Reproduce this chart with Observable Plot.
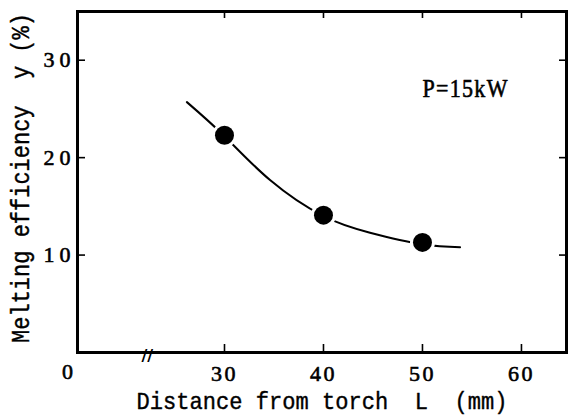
<!DOCTYPE html>
<html>
<head>
<meta charset="utf-8">
<script src="https://cdn.jsdelivr.net/npm/d3@7"></script>
<script src="https://cdn.jsdelivr.net/npm/@observablehq/plot@0.6"></script>
<style>
  html, body { margin: 0; padding: 0; background: #fff; }
  svg text { white-space: pre; }
  .ticks-y text { letter-spacing: 5px; }
  .ticks-x text { letter-spacing: 2.5px; }
  .ticks-x text, .ticks-y text { stroke: #000; stroke-width: 0.6px; }
  .power text { letter-spacing: 1.5px; }
</style>
</head>
<body>
<div id="chart"></div>
<script>
// Melting efficiency measured at P = 15 kW
const distance = [30, 40, 50];           // L (mm)
const efficiency = [22.3, 14.1, 11.3];   // y (%)

// Smooth trend curve drawn through the measurements
const curveL = [26.2, 30, 34.6, 40, 44.7, 50, 53.8];
const curveY = [25.7, 22.2, 17.7, 14.0, 12.3, 11.1, 10.8];

const xTicks = [30, 40, 50, 60];
const yTicks = [10, 20, 30];
const xMin = 15.15;    // left edge of the broken x axis (labelled 0)
const xBreak = 22.2;   // where the x axis is broken
const xMax = 64.55;
const yMax = 35;

const powerLabel = ["P=15kW"];
const powerAt = {L: 50, y: 27};
const xTitle = ["Distance from torch  L  (mm)"];
const yTitle = ["Melting efficiency  y (%)"];

const points = distance.map((L, i) => ({L, y: efficiency[i]}));
const curve = curveL.map((L, i) => ({L, y: curveY[i]}));

const W = 568, H = 416;
const mL = 77, mR = 2, mT = 11, mB = 64;
const innerW = W - mL - mR, innerH = H - mT - mB;
const tick = 8;

const serif = "Liberation Serif, Times New Roman, serif";
const mono = "Liberation Mono, DejaVu Sans Mono, monospace";
// a hairline outline gives the lettering a medium weight
const ink = {fill: "#000", stroke: "#000", strokeWidth: 0.6};

const chart = Plot.plot({
  width: W,
  height: H,
  marginLeft: mL,
  marginRight: mR,
  marginTop: mT,
  marginBottom: mB,
  style: {background: "#fff", color: "#000"},
  x: {domain: [xMin, xMax], label: null},
  y: {domain: [0, yMax], label: null},
  marks: [
    // inward-pointing ticks on all four sides
    Plot.tickX(xTicks, {x: d => d, insetTop: innerH - tick, strokeWidth: 1.6}),
    Plot.tickX(xTicks, {x: d => d, insetBottom: innerH - tick + 1, strokeWidth: 1.6}),
    Plot.tickY(yTicks, {y: d => d, insetRight: innerW - tick, strokeWidth: 1.6}),
    Plot.tickY(yTicks, {y: d => d, insetLeft: innerW - tick + 1, strokeWidth: 1.6}),
    Plot.frame({strokeWidth: 3}),
    // tick labels
    Plot.axisX(xTicks, {anchor: "bottom", tickSize: 0, tickPadding: 13, fontSize: 22, fontFamily: serif, className: "ticks-x", label: null}),
    Plot.axisY(yTicks, {anchor: "left", tickSize: 0, tickPadding: 2, fontSize: 22, fontFamily: serif, className: "ticks-y", label: null}),
    Plot.text(["0"], {x: xMin, y: 0, dx: -10, dy: 11, lineAnchor: "top", fontSize: 22, fontFamily: serif, ...ink}),
    // axis break
    Plot.text(["//"], {x: xBreak, y: 0, dy: 3, fontSize: 16, fontWeight: "bold", fontFamily: "DejaVu Sans", fill: "#000"}),
    // trend curve and measured points
    Plot.line(curve, {x: "L", y: "y", curve: "natural", strokeWidth: 2}),
    Plot.dot(points, {x: "L", y: "y", r: 9.5, fill: "#000", stroke: "#fff", strokeWidth: 6, paintOrder: "stroke"}),
    // annotation and axis titles
    Plot.text(powerLabel, {x: powerAt.L, y: powerAt.y, textAnchor: "start", fontSize: 25, fontFamily: serif, className: "squeeze power", ...ink}),
    Plot.text(xTitle, {frameAnchor: "bottom", dy: 48.5, lineAnchor: "middle", textAnchor: "middle", fontSize: 24, fontFamily: mono, className: "squeeze-wide", ...ink, strokeWidth: 0.4}),
    Plot.text(yTitle, {frameAnchor: "left", rotate: -90, dx: -57, dy: -4, lineAnchor: "middle", textAnchor: "middle", fontSize: 25, fontFamily: mono, className: "squeeze", ...ink, strokeWidth: 0.4})
  ]
});

// narrow the tall typewriter-style lettering along its baseline
const narrow = (selector, k) => chart.querySelectorAll(selector).forEach(t => {
  t.setAttribute("transform", (t.getAttribute("transform") || "") + ` scale(${k},1)`);
});
narrow(".squeeze text", 0.88);
narrow(".squeeze-wide text", 0.92);

document.getElementById("chart").append(chart);
</script>
</body>
</html>
